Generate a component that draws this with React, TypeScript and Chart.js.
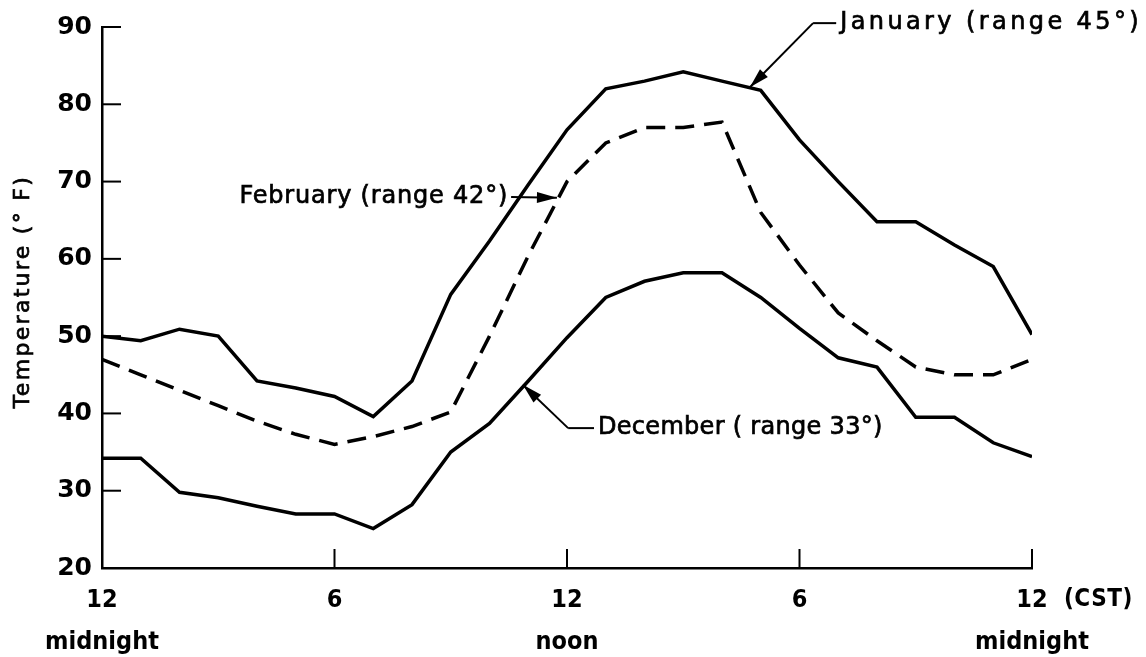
import React, { useEffect, useRef } from 'react';
import { Chart, registerables } from 'chart.js';

Chart.register(...registerables);

// Hours after midnight (CST)
const hours = [0, 1, 2, 3, 4, 5, 6, 7, 8, 9, 10, 11, 12, 13, 14, 15, 16, 17, 18, 19, 20, 21, 22, 23, 24];

// Temperatures (°F)
const january = [50, 49.4, 50.9, 50, 44.2, 43.3, 42.2, 39.6, 44.2, 55.4, 62.3, 69.6, 76.7, 82, 83, 84.2, 83, 81.8, 75.4, 70, 64.8, 64.8, 61.8, 59, 50.2];
const february = [47, 45, 43, 41, 39, 37.3, 36, 37, 38.3, 40.2, 50, 60.4, 70, 75, 77, 77, 77.7, 66, 59.2, 53, 49.4, 46, 45, 45, 47];
const december = [34.2, 34.2, 29.8, 29.1, 28, 27, 27, 25.1, 28.2, 35, 38.7, 44.2, 49.8, 55, 57.1, 58.2, 58.2, 55, 51, 47.2, 46, 39.5, 39.5, 36.2, 34.4];

const yTickValues = [20, 30, 40, 50, 60, 70, 80, 90];
const xTickValues = [0, 6, 12, 18, 24];
const xTickTop = ['12', '6', '12', '6', '12'];
const xTickBottom = ['midnight', '', 'noon', '', 'midnight'];
const xUnitLabel = '(CST)';
const yTitle = 'Temperature (° F)';

const FONT = '"DejaVu Sans", sans-serif';
const FONT_COND = '"DejaVu Sans Condensed", "DejaVu Sans", sans-serif';

type Pt = [number, number];
type Annot = { text: string; tip: Pt; elbow: Pt | null; textAt: Pt; align: 'left' | 'right'; spacing: number };

const annotations: Annot[] = [
  { text: 'January (range 45°)', tip: [16.72, 82.2], elbow: [18.35, 90.5], textAt: [19.05, 90.5], align: 'left', spacing: 3.4 },
  { text: 'February (range 42°)', tip: [11.74, 67.9], elbow: null, textAt: [10.48, 68.0], align: 'right', spacing: 0.8 },
  { text: 'December ( range 33°)', tip: [10.86, 43.7], elbow: [12.03, 38.1], textAt: [12.8, 38.1], align: 'left', spacing: 0.3 },
];

function drawArrow(ctx: CanvasRenderingContext2D, x1: number, y1: number, x2: number, y2: number) {
  ctx.beginPath();
  ctx.moveTo(x1, y1);
  ctx.lineTo(x2, y2);
  ctx.stroke();
  const a = Math.atan2(y2 - y1, x2 - x1);
  const len = 20;
  const half = 5.5;
  ctx.beginPath();
  ctx.moveTo(x2, y2);
  ctx.lineTo(x2 - len * Math.cos(a) + half * Math.sin(a), y2 - len * Math.sin(a) - half * Math.cos(a));
  ctx.lineTo(x2 - len * Math.cos(a) - half * Math.sin(a), y2 - len * Math.sin(a) + half * Math.cos(a));
  ctx.closePath();
  ctx.fill();
}

function heavyText(ctx: CanvasRenderingContext2D, text: string, x: number, y: number) {
  ctx.fillText(text, x, y);
  ctx.save();
  ctx.lineWidth = 0.7;
  ctx.strokeText(text, x, y);
  ctx.restore();
}

const decorPlugin = {
  id: 'decor',
  afterDraw(chart: any) {
    const ctx: CanvasRenderingContext2D = chart.ctx;
    const xs = chart.scales.x;
    const ys = chart.scales.y;
    ctx.save();
    ctx.strokeStyle = '#000';
    ctx.fillStyle = '#000';
    ctx.lineWidth = 2;
    const left = xs.getPixelForValue(0);
    const bottom = ys.getPixelForValue(20);
    // inner tick marks
    yTickValues.forEach((v) => {
      if (v === 20) return;
      const y = ys.getPixelForValue(v);
      ctx.beginPath();
      ctx.moveTo(left, y);
      ctx.lineTo(left + 19, y);
      ctx.stroke();
    });
    xTickValues.forEach((h) => {
      if (h === 0) return;
      const x = xs.getPixelForValue(h);
      ctx.beginPath();
      ctx.moveTo(x, bottom);
      ctx.lineTo(x, bottom - 19);
      ctx.stroke();
    });
    // unit label
    ctx.font = `bold 24px ${FONT_COND}`;
    (ctx as any).letterSpacing = '0.5px';
    ctx.textAlign = 'left';
    ctx.textBaseline = 'middle';
    ctx.fillText(xUnitLabel, xs.getPixelForValue(24) + 32, bottom + 32);
    // y title
    ctx.save();
    ctx.font = `22px ${FONT}`;
    (ctx as any).letterSpacing = '2.3px';
    ctx.textAlign = 'center';
    ctx.translate(23, ys.getPixelForValue(55) - 6);
    ctx.rotate(-Math.PI / 2);
    heavyText(ctx, yTitle, 0, 0);
    ctx.restore();
    // annotations
    ctx.font = `24px ${FONT}`;
    ctx.lineWidth = 2;
    annotations.forEach((a) => {
      (ctx as any).letterSpacing = `${a.spacing}px`;
      const tx = xs.getPixelForValue(a.textAt[0]);
      const ty = ys.getPixelForValue(a.textAt[1]);
      const px = xs.getPixelForValue(a.tip[0]);
      const py = ys.getPixelForValue(a.tip[1]);
      ctx.textAlign = a.align;
      heavyText(ctx, a.text, tx, ty);
      if (a.elbow) {
        const ex = xs.getPixelForValue(a.elbow[0]);
        const ey = ys.getPixelForValue(a.elbow[1]);
        ctx.beginPath();
        ctx.moveTo(tx - 4, ty);
        ctx.lineTo(ex, ey);
        ctx.stroke();
        drawArrow(ctx, ex, ey, px, py);
      } else {
        drawArrow(ctx, tx + 3, ty, px, py);
      }
    });
    ctx.restore();
  },
};

export default function App() {
  const ref = useRef<HTMLCanvasElement | null>(null);
  useEffect(() => {
    document.body.style.margin = '0';
    document.body.style.background = '#fff';
    if (!ref.current) return;
    Chart.defaults.font.family = FONT;
    Chart.defaults.color = '#000';
    const mk = (arr: number[]) => hours.map((h, i) => ({ x: h, y: arr[i] }));
    const chart = new Chart(ref.current, {
      type: 'line',
      data: {
        datasets: [
          { label: 'January', data: mk(january), borderColor: '#000', borderWidth: 3.5, pointRadius: 0, tension: 0, fill: false },
          { label: 'February', data: mk(february), borderColor: '#000', borderWidth: 3.5, borderDash: [19, 10], pointRadius: 0, tension: 0, fill: false },
          { label: 'December', data: mk(december), borderColor: '#000', borderWidth: 3.5, pointRadius: 0, tension: 0, fill: false },
        ],
      },
      options: {
        responsive: false,
        animation: false,
        layout: { padding: { top: 27, right: 114, left: 0, bottom: 0 } },
        plugins: { legend: { display: false }, tooltip: { enabled: false } },
        scales: {
          x: {
            type: 'linear',
            min: 0,
            max: 24,
            afterFit: (s: any) => { s.height = 89; },
            afterBuildTicks: (s: any) => { s.ticks = xTickValues.map((v) => ({ value: v })); },
            grid: { display: false, drawTicks: false },
            border: { display: true, color: '#000', width: 2.5 },
            ticks: {
              padding: 11,
              maxRotation: 0,
              autoSkip: false,
              font: { family: FONT_COND, size: 25, weight: 'bold', lineHeight: '42px' as any },
              color: '#000',
              callback: (v: any) => {
                const i = xTickValues.indexOf(Number(v));
                return i >= 0 ? [xTickTop[i], xTickBottom[i]] : '';
              },
            },
          },
          y: {
            type: 'linear',
            min: 20,
            max: 90,
            afterFit: (s: any) => { s.width = 102; },
            afterBuildTicks: (s: any) => { s.ticks = yTickValues.map((v) => ({ value: v })); },
            grid: { display: false, drawTicks: false },
            border: { display: true, color: '#000', width: 2.5 },
            title: { display: false },
            ticks: { padding: 10, font: { size: 25, weight: 'bold' }, color: '#000' },
          },
        },
      },
      plugins: [decorPlugin],
    });
    return () => chart.destroy();
  }, []);
  return (
    <div style={{ width: 1146, height: 657, background: '#fff' }}>
      <canvas ref={ref} width={1146} height={657} style={{ display: 'block' }} />
    </div>
  );
}
